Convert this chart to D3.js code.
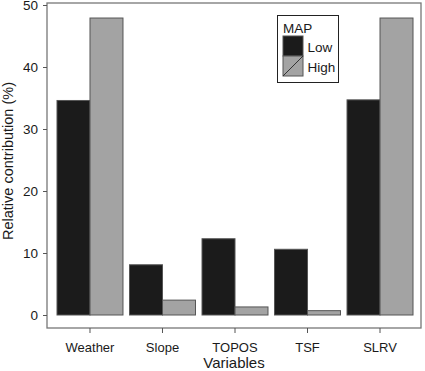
<!DOCTYPE html>
<html><head><meta charset="utf-8">
<script src="https://cdn.jsdelivr.net/npm/d3@7"></script>
<style>body{margin:0;background:#fff;} text{font-family:"Liberation Sans",Arial,sans-serif;fill:#1a1a1a;}</style>
</head><body><svg id="c" width="425" height="371"></svg>
<script>
const categories = ["Weather","Slope","TOPOS","TSF","SLRV"];
const seriesNames = ["Low","High"];
const lowValues = [34.6, 8.1, 12.3, 10.6, 34.7];
const highValues = [47.9, 2.4, 1.3, 0.7, 47.9];
const yTicks = [0,10,20,30,40,50];
const colors = {Low:"#1b1b1b", High:"#a3a3a3"};

const svg = d3.select("#c");
const frame = {l:47, r:421, t:3, b:328};
const y = d3.scaleLinear().domain([0,50]).range([315,5]);
const x = d3.scaleBand().domain(categories).range([57,413]).paddingInner(0.09).paddingOuter(0);
const xs = d3.scaleBand().domain(seriesNames).range([0, x.bandwidth()]);

// frame
svg.append("rect").attr("x",frame.l).attr("y",frame.t).attr("width",frame.r-frame.l).attr("height",frame.b-frame.t)
  .attr("fill","none").attr("stroke","#777").attr("stroke-width",1.3);

const data = categories.map((c,i)=>({cat:c, vals:[{s:"Low",v:lowValues[i]},{s:"High",v:highValues[i]}]}));
const g = svg.append("g").selectAll("g").data(data).join("g").attr("transform",d=>`translate(${x(d.cat)},0)`);
g.selectAll("rect").data(d=>d.vals).join("rect")
  .attr("x",d=>xs(d.s)).attr("y",d=>y(d.v)).attr("width",xs.bandwidth()).attr("height",d=>y(0)-y(d.v))
  .attr("fill",d=>colors[d.s]).attr("stroke","#555").attr("stroke-width",1);

// y axis
const ya = svg.append("g").attr("transform",`translate(${frame.l},0)`)
  .call(d3.axisLeft(y).tickValues(yTicks).tickSize(4).tickPadding(5));
ya.select(".domain").remove();
ya.selectAll(".tick line").attr("stroke","#555");
ya.selectAll(".tick text").style("font-size","13.5px").attr("fill","#1a1a1a");

// x axis
const xa = svg.append("g").attr("transform",`translate(0,${frame.b})`)
  .call(d3.axisBottom(x).tickSize(5).tickPadding(10));
xa.select(".domain").remove();
xa.selectAll(".tick line").attr("stroke","#555");
xa.selectAll(".tick text").style("font-size","13px").attr("fill","#1a1a1a");

svg.append("text").attr("x",234).attr("y",368).attr("text-anchor","middle").style("font-size","15px").text("Variables");
svg.append("text").attr("transform","translate(13,161) rotate(-90)").attr("text-anchor","middle").style("font-size","14.5px").text("Relative contribution (%)");

// legend
const lg = svg.append("g");
lg.append("rect").attr("x",277.5).attr("y",15.5).attr("width",61).attr("height",67).attr("fill","#fff").attr("stroke","#222").attr("stroke-width",1);
lg.append("text").attr("x",283).attr("y",32.5).style("font-size","13.5px").text("MAP");
seriesNames.forEach((s,i)=>{
  const yy = 36 + i*20;
  lg.append("rect").attr("x",283).attr("y",yy).attr("width",20).attr("height",20).attr("fill",colors[s]).attr("stroke","#555");
  if(s==="High") lg.append("line").attr("x1",283).attr("y1",yy+20).attr("x2",303).attr("y2",yy).attr("stroke","#333");
  lg.append("text").attr("x",307.5).attr("y",yy+15.5).style("font-size","13.5px").text(s);
});
</script></body></html>
